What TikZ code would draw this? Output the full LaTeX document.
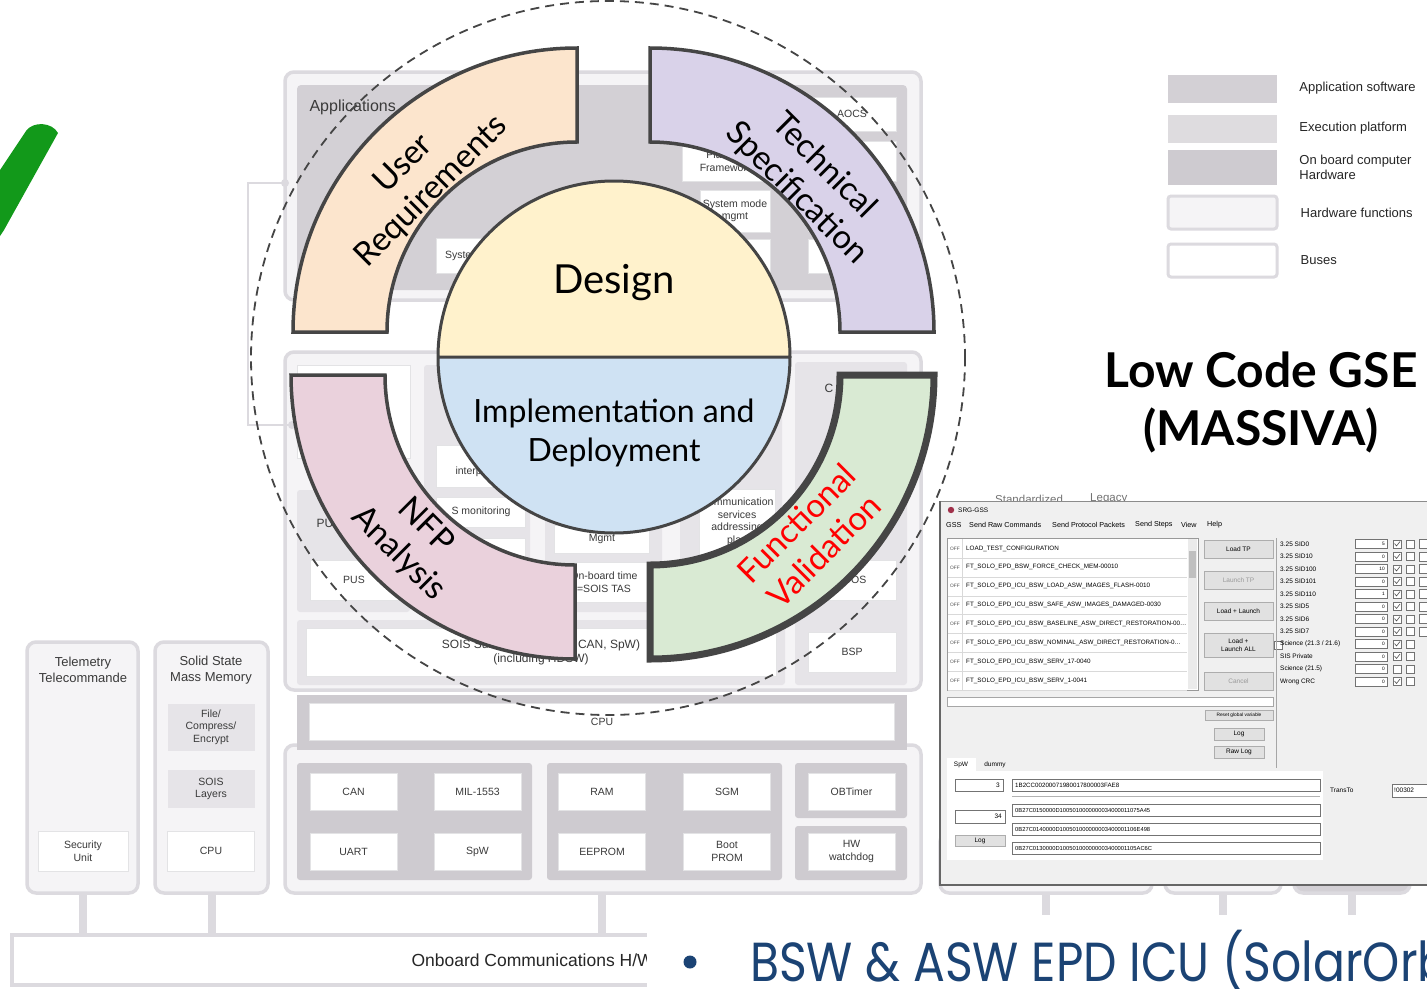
\documentclass[tikz,border=0pt]{standalone}
\usepackage{fontspec}
\setmainfont{Liberation Sans}
\newfontfamily\latofont{Lato}
\newfontfamily\bswfont[FakeStretch=0.86]{Poppins}
\usetikzlibrary{positioning}

\definecolor{frameGrey}{HTML}{DCDADF}
\definecolor{paleFill}{HTML}{F5F4F6}
\definecolor{appGrey}{HTML}{D3D0D5}
\definecolor{panelGrey}{HTML}{E6E4E8}
\definecolor{hwGrey}{HTML}{CECBD0}
\definecolor{boxEdge}{HTML}{E3E3E5}
\definecolor{archText}{HTML}{3A3A3A}
\definecolor{peachFill}{HTML}{FCE5CD}
\definecolor{lilacFill}{HTML}{D9D2E9}
\definecolor{pinkFill}{HTML}{EAD1DC}
\definecolor{mintFill}{HTML}{D9EAD3}
\definecolor{sunFill}{HTML}{FFF2CC}
\definecolor{skyFill}{HTML}{CFE2F3}
\definecolor{ringGrey}{HTML}{454545}
\definecolor{checkGreen}{HTML}{12991A}
\definecolor{bswBlue}{HTML}{1B4374}
\definecolor{winGrey}{HTML}{F0F0F0}
\definecolor{btnGrey}{HTML}{E1E1E1}
\definecolor{btnEdge}{HTML}{ADADAD}
\definecolor{gearRed}{HTML}{A0304A}

\newcommand{\archfont}{\fontsize{10.5}{12.5}\selectfont}
\newcommand{\cyclefont}{\latofont\fontsize{33}{39}\selectfont}
\newcommand{\guifont}{\fontsize{6.5}{7.5}\selectfont}
\newcommand{\guitiny}{\fontsize{4.8}{5.8}\selectfont}
\newcommand{\legfont}{\fontsize{13}{15}\selectfont}

\begin{document}
\begin{tikzpicture}[x=1pt, y=-1pt,
    archframe/.style={draw=frameGrey, line width=3.5pt, fill=paleFill, rounded corners=9pt},
    wbox/.style={draw=boxEdge, line width=1pt, fill=white, text=archText, font=\archfont, align=center, inner sep=1pt},
    hwbox/.style={wbox, minimum width=87pt, minimum height=37pt},
    phasering/.style={draw=ringGrey, line width=3.5pt, fill=#1},
    phase/.style={font=\cyclefont, align=center},
    legbox/.style={fill=#1, minimum width=109pt, minimum height=28pt, inner sep=0pt},
    legtext/.style={font=\legfont, text=black!85, align=left, inner sep=0pt},
    btn/.style={draw=btnEdge, fill=btnGrey, line width=.5pt, font=\guifont, align=center, inner sep=0pt},
    field/.style={draw=black!55, fill=white, line width=.5pt},
    conn/.style={draw=frameGrey, line width=8pt}]
\useasboundingbox (0,0) rectangle (1427,988);
\fill[white] (0,0) rectangle (1427,988);

% check mark
\fill[checkGreen] (0,170) -- (26,131) .. controls (33,121) and (52,122) .. (58,133) -- (4,230) -- (0,236) -- cycle;

% on-board architecture in the background
\coordinate (busTop) at (0,935);
\coordinate (hwTap) at (602,893);
\node[archframe, minimum width=636pt, minimum height=228pt] (appframe) at (603,186) {};
\fill[appGrey, rounded corners=4pt] (297,85) rectangle (907,290);
\node[anchor=west, font=\fontsize{16}{18}\selectfont, text=archText] (apps) at (306,107) {Applications};
\node[wbox, minimum width=88pt, minimum height=34pt] (aocs) at (852,114) {AOCS};
\node[wbox, minimum width=88pt, minimum height=40pt] (apprb) at (852,161) {};
\node[wbox, minimum width=88pt, minimum height=40pt] (apprc) at (852,211) {};
\node[wbox, minimum width=88pt, minimum height=34pt] (apprd) at (852,256) {};
\node[wbox, minimum width=87pt, minimum height=40pt] (platfw) at (726,161) {Platform\\Framework};
\node[wbox, minimum width=70pt, minimum height=42pt] (sysmode) at (735,211) {System mode\\mgmt};
\node[wbox, minimum width=70pt, minimum height=34pt] (appmid) at (735,256) {};
\node[wbox, minimum width=84pt, minimum height=35pt] (sysbox) at (478,256) {};
\node[anchor=west, text=archText, font=\archfont] (syslbl) at ([xshift=6pt]sysbox.west) {System};

\node[archframe, minimum width=636pt, minimum height=338pt] (execframe) at (603,521) {};
\fill[white, draw=boxEdge] (297,365) rectangle (410,458);
\fill[panelGrey, rounded corners=3pt] (297,490) rectangle (410,612);
\fill[panelGrey, rounded corners=3pt] (424,365) rectangle (530,612);
\fill[panelGrey, rounded corners=3pt] (545,365) rectangle (662,612);
\fill[panelGrey, rounded corners=3pt] (680,365) rectangle (782,612);
\fill[panelGrey, rounded corners=3pt] (795,362) rectangle (907,685);
\fill[panelGrey, rounded corners=3pt] (297,620) rectangle (785,685);
\node[anchor=west, text=archText, font=\fontsize{12}{14}\selectfont] (puslbl) at (313,523) {PUS};
\node[wbox, minimum width=88pt, minimum height=40pt] (pus) at (354,580) {PUS};
\node[wbox, minimum width=82pt, minimum height=42pt] (interp) at (477,466) {};
\node[anchor=west, text=archText, font=\archfont] (interplbl) at (452,472) {interpreter};
\node[wbox, minimum width=89pt, minimum height=30pt] (monit) at (481,512) {};
\node[anchor=west, text=archText, font=\archfont] (monitlbl) at (448,512) {S monitoring};
\node[wbox, minimum width=89pt, minimum height=24pt] (colb) at (481,550) {};
\node[wbox, minimum width=95pt, minimum height=28pt] (mgmt) at (602,539) {Mgmt};
\node[wbox, minimum width=95pt, minimum height=40pt] (obtime) at (604,582) {On-board time\\=SOIS TAS};
\node[wbox, minimum width=76pt, minimum height=66pt] (commsrv) at (737,522) {Communication\\services\\addressing\\plan};
\node[anchor=west, text=archText, font=\fontsize{12}{14}\selectfont] (corelbl) at (821,388) {C};
\node[wbox, minimum width=88pt, minimum height=40pt] (rtos) at (852,580) {RTOS};
\node[wbox, minimum width=88pt, minimum height=40pt] (bsp) at (852,652) {BSP};
\node[wbox, font=\fontsize{12}{14}\selectfont, minimum width=470pt, minimum height=48pt] (sois) at (541,652) {SOIS Subnetwork (1553, CAN, SpW)\\(including HDSW)};
\draw[frameGrey, line width=1.5pt] (285,183) -- (248,183) -- (248,425) -- (292,425);
\fill[frameGrey] (285,183) circle (4pt) (292,425) circle (4pt);

\draw[conn] (hwTap) -- (hwTap |- busTop);
\node[archframe, minimum width=636pt, minimum height=148pt] (hwframe) at (603,819) {};
\fill[hwGrey] (297,695) rectangle (907,750);
\node[wbox, minimum width=585pt, minimum height=37pt] (cpu) at (602,722) {CPU};
\fill[hwGrey, rounded corners=3pt] (297,763) rectangle (532,880);
\fill[hwGrey, rounded corners=3pt] (547,763) rectangle (782,880);
\fill[hwGrey, rounded corners=3pt] (795,763) rectangle (907,818);
\fill[hwGrey, rounded corners=3pt] (795,826) rectangle (907,880);
\foreach \hx/\hy/\hname/\hlab in {353.5/791.5/can/CAN, 477.5/791.5/mil/MIL-1553, 353.5/851.5/uart/UART,
    477.5/851.5/spw/SpW, 602/791.5/ram/RAM, 727/791.5/sgm/SGM, 602/851.5/eeprom/EEPROM,
    727/851.5/bootprom/{Boot\\PROM}, 851.5/791.5/obtimer/OBTimer, 851.5/851.5/hwwd/{HW\\watchdog}}
  \node[hwbox] (\hname) at (\hx,\hy) {\hlab};

\node[archframe, minimum width=111pt, minimum height=251pt] (tmtc) at (82.5,767.5) {};
\node[archframe, minimum width=113pt, minimum height=251pt] (ssmm) at (211.5,767.5) {};
\foreach \n in {tmtc, ssmm}
  \draw[conn] (\n.south) -- (\n.south |- busTop);
\node[text=archText, font=\fontsize{13}{16}\selectfont, align=center] (tmtclbl) at (83,670) {Telemetry\\Telecommande};
\node[wbox, minimum width=90pt, minimum height=40pt] (secunit) at (83,851) {Security\\Unit};
\node[text=archText, font=\fontsize{13}{16}\selectfont, align=center] (ssmmlbl) at (211,670) {Solid State\\Mass Memory};
\node[wbox, fill=panelGrey, draw=none, minimum width=87pt, minimum height=47pt] (filecomp) at (211,727) {File/\\Compress/\\Encrypt};
\node[wbox, fill=panelGrey, draw=none, minimum width=87pt, minimum height=38pt] (soisl) at (211,789) {SOIS\\Layers};
\node[wbox, minimum width=87pt, minimum height=40pt] (cpul) at (211,851) {CPU};

\node[archframe, minimum width=212pt, minimum height=60pt] (gsfragA) at (1046,863) {};
\node[archframe, minimum width=116pt, minimum height=60pt] (gsfragB) at (1223,863) {};
\node[archframe, fill=appGrey, minimum width=116pt, minimum height=60pt] (gsfragC) at (1352,863) {};
\foreach \n in {gsfragA, gsfragB, gsfragC}
  \draw[conn] (\n.south) -- (\n.south |- busTop);

\node[draw=frameGrey, line width=3.5pt, fill=white, minimum width=650pt, minimum height=50pt] (bus) at (337,960) {};
\node[anchor=west, text=black!85, font=\fontsize{17.5}{20}\selectfont] (buslbl) at (408,960) {Onboard Communications H/W};

% slide text over the bottom right
\fill[white] (647,915) rectangle (1427,988);
\fill[bswBlue] (690,962) circle (6.5pt);
\node[anchor=base west, inner sep=0pt, text=bswBlue, font=\bswfont\fontsize{55}{60}\selectfont] (bsw) at (750,981) {BSW \& ASW EPD ICU (SolarOrbiter)};

% legend
\node[legbox=appGrey] (lgapp) at (1222.5,88.5) {};
\node[legbox=appGrey!75!white] (lgexec) at (1222.5,128.5) {};
\node[legbox=hwGrey, minimum height=35pt] (lghw) at (1222.5,167.5) {};
\node[legbox=paleFill, draw=frameGrey, line width=3pt, rounded corners=3pt, minimum height=33pt] (lgfn) at (1222.5,212.5) {};
\node[legbox=white, draw=frameGrey, line width=3pt, rounded corners=3pt, minimum height=33pt] (lgbus) at (1222.5,260.5) {};
\node[legtext, anchor=west, right=22pt of lgapp] (lgappt) {Application software};
\node[legtext, anchor=west, right=22pt of lgexec] (lgexect) {Execution platform};
\node[legtext, anchor=west, right=22pt of lghw] (lghwt) {On board computer\\Hardware};
\node[legtext, anchor=west, right=22pt of lgfn] (lgfnt) {Hardware functions};
\node[legtext, anchor=west, right=22pt of lgbus] (lgbust) {Buses};

% title
\node[font=\latofont\bfseries\fontsize{48}{58}\selectfont] (gse) at (1261,370) {Low Code GSE};
\node[font=\latofont\bfseries\fontsize{48}{58}\selectfont] (massiva) at (1261,430) {(MASSIVA)};

% ground support window
\node[anchor=south west, font=\fontsize{11.5}{12}\selectfont, text=black!55, inner sep=0pt] (stdtab) at (995,504) {Standardized};
\node[anchor=south west, font=\fontsize{11.5}{12}\selectfont, text=black!55, inner sep=0pt] (legtab) at (1090,504) {Legacy};
\fill[winGrey] (940,501) rectangle (1427,885);
\draw[black!45, line width=1pt] (940,501) -- (1427,501);
\draw[black!60, line width=1.2pt] (940,501) -- (940,885) -- (1427,885);
\fill[gearRed] (951,510) circle (3.2pt);
\node[anchor=west, font=\guifont, inner sep=0pt] (srg) at (958,510) {SRG-GSS};
\foreach \mx/\mitem in {946/GSS, 969/Send Raw Commands, 1052/Send Protocol Packets, 1135/Send Steps, 1181/View, 1207/Help}
  \node[anchor=west, font=\fontsize{7.2}{8}\selectfont, inner sep=0pt] at (\mx,525) {\mitem};

\fill[white] (947,538) rectangle (1198,690);
\draw[black!40, line width=.5pt] (947,538) rectangle (1198,690);
\foreach \r/\tpname in {0/LOAD\_TEST\_CONFIGURATION, 1/FT\_SOLO\_EPD\_BSW\_FORCE\_CHECK\_MEM-00010,
    2/FT\_SOLO\_EPD\_ICU\_BSW\_LOAD\_ASW\_IMAGES\_FLASH-0010, 3/FT\_SOLO\_EPD\_ICU\_BSW\_SAFE\_ASW\_IMAGES\_DAMAGED-0030,
    4/FT\_SOLO\_EPD\_ICU\_BSW\_BASELINE\_ASW\_DIRECT\_RESTORATION-00\ldots, 5/FT\_SOLO\_EPD\_ICU\_BSW\_NOMINAL\_ASW\_DIRECT\_RESTORATION-0\ldots,
    6/FT\_SOLO\_EPD\_ICU\_BSW\_SERV\_17-0040, 7/FT\_SOLO\_EPD\_ICU\_BSW\_SERV\_1-0041}{
  \pgfmathsetmacro{\ry}{548.5+18.9*\r}
  \node[anchor=west, font=\guitiny, inner sep=0pt, text=black!70] at (950,\ry) {OFF};
  \node[anchor=west, font=\fontsize{6.3}{7}\selectfont, inner sep=0pt] at (966,\ry) {\tpname};
  \draw[black!15, line width=.5pt] (948,\ry+9.45) -- (1187,\ry+9.45);
  \draw[black!15, line width=.5pt] (962,\ry-9.45) -- (962,\ry+9.45);
}
\fill[black!8] (1188,539) rectangle (1197,689);
\fill[black!25] (1189,551) rectangle (1196,578);

\node[btn, minimum width=69pt, minimum height=18pt] (loadtp) at (1238.5,549) {Load TP};
\node[btn, minimum width=69pt, minimum height=18pt, text=black!40] (launchtp) at (1238.5,580) {Launch TP};
\node[btn, minimum width=69pt, minimum height=18pt] (loadlaunch) at (1238.5,611) {Load + Launch};
\node[btn, minimum width=69pt, minimum height=24pt] (loadall) at (1238.5,645) {Load +\\Launch ALL};
\node[btn, minimum width=69pt, minimum height=18pt, text=black!40] (cancelbtn) at (1238.5,681) {Cancel};
\node[field, minimum size=8pt, inner sep=0pt, right=1pt of loadall] (allchk) {};

\foreach \s/\slab/\sval/\sck/\sxt in {0/3.25 SID0/5/1/1, 1/3.25 SID10/0/1/1, 2/3.25 SID100/10/1/1,
    3/3.25 SID101/0/1/1, 4/3.25 SID110/1/1/1, 5/3.25 SID5/0/1/1, 6/3.25 SID6/0/1/1, 7/3.25 SID7/0/1/1,
    8/Science (21.3 \slash\ 21.6)/0/1/0, 9/SIS Private/0/1/0, 10/Science (21.5)/0/0/0, 11/Wrong CRC/0/1/0}{
  \pgfmathsetmacro{\sy}{544+12.5*\s}
  \node[anchor=west, font=\guifont, inner sep=0pt] at (1280,\sy) {\slab};
  \draw[field] (1355,\sy-4.5) rectangle (1387,\sy+4.5);
  \node[anchor=east, font=\guitiny, inner sep=0pt] at (1385,\sy) {\sval};
  \draw[field] (1393,\sy-4) rectangle (1401,\sy+4);
  \ifnum\sck=1\relax
    \draw[black!70, line width=.6pt] (1394.5,\sy-0.5) -- (1396.5,\sy+2) -- (1400,\sy-2.5);
  \fi
  \draw[field] (1406,\sy-4) rectangle (1414,\sy+4);
  \ifnum\sxt=1\relax
    \draw[field] (1419,\sy-4.5) rectangle (1432,\sy+4.5);
  \fi
}

\draw[field, draw=black!35] (947,697) rectangle (1273,706);
\node[btn, minimum width=68pt, minimum height=10pt, font=\guitiny] (resetbtn) at (1239,715) {Reset global variable};
\node[btn, minimum width=50pt, minimum height=12pt] (logbtn) at (1239,734) {Log};
\node[btn, minimum width=50pt, minimum height=12pt] (rawlog) at (1239,752) {Raw Log};
\draw[black!35, line width=.5pt] (1276,538) -- (1276,768);

\fill[white] (947,758) rectangle (976,771);
\node[font=\guifont, inner sep=0pt] (spwtab) at (961,765) {SpW};
\node[font=\guifont, inner sep=0pt] (dummytab) at (995,765) {dummy};
\fill[white] (947,771) rectangle (1323,860);
\draw[field] (955,779) rectangle (1003,791);
\node[anchor=east, font=\guifont, inner sep=0pt] (spwcnt) at (1000,785) {3};
\draw[field] (1012,779) rectangle (1320,791);
\node[anchor=west, font=\fontsize{6.2}{7}\selectfont, inner sep=0pt] (spwraw) at (1015,785) {1B2CC00200071980017800003FAE8};
\draw[black!30, line width=.5pt] (1012,796) -- (1320,796);
\draw[field] (955,810) rectangle (1005,823);
\node[anchor=east, font=\guifont, inner sep=0pt] (pktcnt) at (1002,816.5) {34};
\node[btn, minimum width=50pt, minimum height=11pt] (spwlog) at (980,841) {Log};
\foreach \h/\hex in {0/0B27C0150000D1005010000000034000011075A45, 1/0B27C0140000D100501000000003400001106E498,
    2/0B27C0130000D100501000000003400001105AC6C}{
  \pgfmathsetmacro{\hy}{810+19*\h}
  \draw[field] (1012,\hy-6) rectangle (1320,\hy+6);
  \node[anchor=west, font=\fontsize{5.8}{7}\selectfont, inner sep=0pt] at (1015,\hy) {\hex};
}
\node[anchor=west, font=\guifont, inner sep=0pt] (transto) at (1330,790) {TransTo};
\draw[field] (1392,784) rectangle (1432,797);
\node[anchor=west, font=\guifont, inner sep=0pt] (transval) at (1394,790.5) {!00302};

% life cycle wheel
\draw[ringGrey, dash pattern=on 9pt off 6pt, line width=1.8pt] (608,358) circle[radius=357pt];
\draw[phasering=peachFill] (577,48) arc[start angle=90, end angle=180, radius=284pt] -- (387,332)
  arc[start angle=180, end angle=90, radius=190pt] -- cycle;
\draw[phasering=lilacFill] (650,48) arc[start angle=90, end angle=0, radius=284pt] -- (840,332)
  arc[start angle=0, end angle=90, radius=190pt] -- cycle;
\draw[phasering=pinkFill] (291,375) arc[start angle=180, end angle=270, radius=284pt] -- (575,565)
  arc[start angle=270, end angle=180, radius=190pt] -- cycle;
\draw[phasering=mintFill, line width=7pt] (650,659) arc[start angle=270, end angle=360, radius=284pt] -- (840,375)
  arc[start angle=360, end angle=270, radius=190pt] -- cycle;
\fill[sunFill] (438,357) arc[start angle=180, end angle=0, radius=176pt] -- cycle;
\fill[skyFill] (438,357) arc[start angle=180, end angle=360, radius=176pt] -- cycle;
\draw[ringGrey, line width=3pt] (614,357) circle[radius=176pt] (438,357) -- (790,357);

\node[phase, rotate=45] (urlabel) at (418,178) {User\\Requirements};
\node[phase, rotate=-45] (tslabel) at (810,180) {Technical\\Specification};
\node[phase, rotate=-45] (nfplabel) at (412,540) {NFP\\Analysis};
\node[phase, rotate=45, text=red] (fvlabel) at (810,537) {Functional\\Validation};
\node[font=\latofont\fontsize{40}{46}\selectfont] (design) at (614,283) {Design};
\node[phase, font=\latofont\fontsize{32}{39}\selectfont] (impl) at (614,433) {Implementation and\\Deployment};
\end{tikzpicture}
\end{document}
